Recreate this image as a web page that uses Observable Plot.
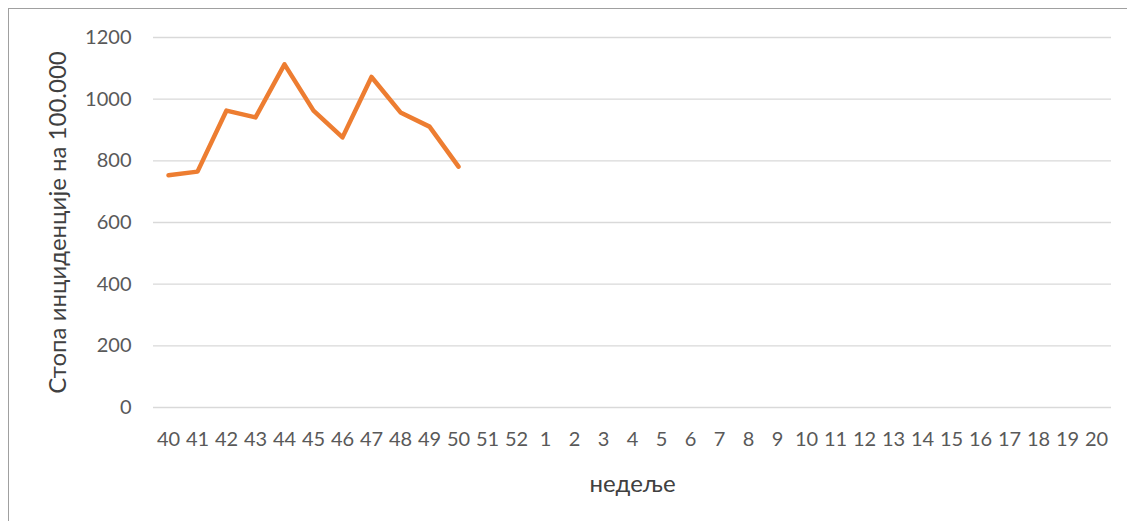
<!DOCTYPE html>
<html>
<head>
<meta charset="utf-8">
<script src="https://cdn.jsdelivr.net/npm/d3@7"></script>
<script src="https://cdn.jsdelivr.net/npm/@observablehq/plot@0.6"></script>
<style>
  html, body { margin: 0; padding: 0; background: #fff; overflow: hidden; width: 1127px; height: 521px; }
  #wrap { position: relative; width: 1127px; height: 521px; }
  #border { position: absolute; left: 8px; top: 8px; width: 1200px; height: 600px; border: 1.5px solid #a0a0a0; box-sizing: border-box; }
  #chart { position: absolute; left: 0; top: 0; }
</style>
</head>
<body>
<div id="wrap">
  <div id="border"></div>
  <div id="chart"></div>
</div>
<script>
const weeks = ["40","41","42","43","44","45","46","47","48","49","50","51","52",
  "1","2","3","4","5","6","7","8","9","10","11","12","13","14","15","16","17","18","19","20"];
const dataWeeks = ["40","41","42","43","44","45","46","47","48","49","50"];
const rates = [753, 765, 963, 941, 1113, 963, 876, 1072, 957, 911, 781];
const yTicks = [0, 200, 400, 600, 800, 1000, 1200];
const yTitle = "Стопа инциденције на 100.000";
const xTitle = "недеље";

const rows = dataWeeks.map((w, i) => ({week: w, rate: rates[i]}));

const chart = Plot.plot({
  width: 1127,
  height: 521,
  marginLeft: 153,
  marginRight: 16,
  marginTop: 37,
  marginBottom: 114,
  style: {fontFamily: "Lato, 'Open Sans', sans-serif", fontSize: "20px", color: "#595959", background: "transparent", overflow: "visible"},
  x: {type: "point", domain: weeks, padding: 0.5, align: 0.5, label: null},
  y: {domain: [0, 1200], label: null},
  marks: [
    Plot.ruleY(yTicks, {stroke: "#d9d9d9", strokeWidth: 1.3}),
    Plot.axisY({ticks: yTicks, tickSize: 0, tickPadding: 22, tickFormat: d => String(d), label: null, fill: "#595959"}),
    Plot.axisX({tickSize: 0, tickPadding: 24, label: null, fill: "#595959"}),
    Plot.lineY(rows, {x: "week", y: "rate", stroke: "#ED7D31", strokeWidth: 4.5, strokeLinecap: "round", strokeLinejoin: "round"}),
    Plot.text([yTitle], {frameAnchor: "left", dx: -95, rotate: -90, textAnchor: "middle", lineAnchor: "middle", text: d => d, fill: "#404040", fontSize: 24}),
    Plot.text([xTitle], {frameAnchor: "bottom", dy: 77, textAnchor: "middle", lineAnchor: "middle", text: d => d, fill: "#404040", fontSize: 24})
  ]
});
document.getElementById("chart").appendChild(chart);
</script>
</body>
</html>
